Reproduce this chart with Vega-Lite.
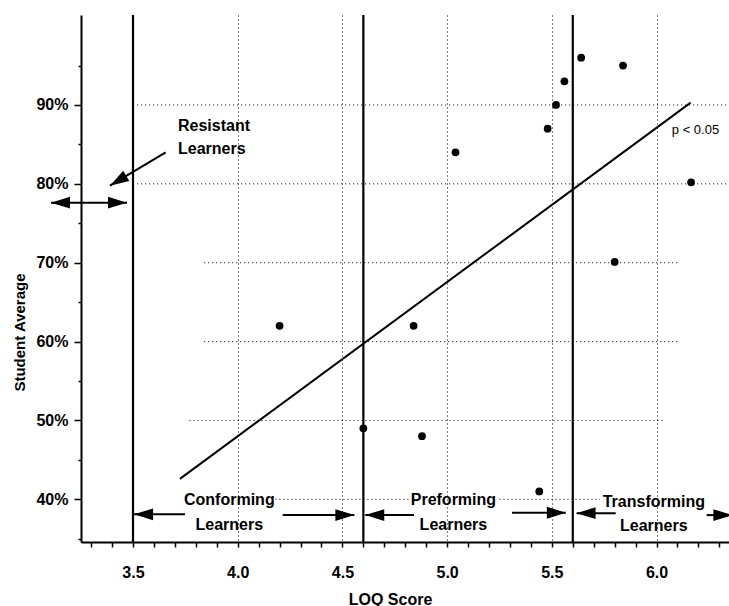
{
  "$schema": "https://vega.github.io/schema/vega-lite/v6.json",
  "width": 648,
  "height": 527,
  "autosize": {"type": "none"},
  "padding": {"left": 81, "top": 15, "right": 0, "bottom": 64},
  "background": "white",
  "config": {"view": {"stroke": null}, "font": "Liberation Sans"},
  "datasets": {
    "points": [
      {"x": 4.2, "y": 62}, {"x": 4.84, "y": 62}, {"x": 4.6, "y": 49}, {"x": 4.88, "y": 48},
      {"x": 5.04, "y": 84}, {"x": 5.44, "y": 41}, {"x": 5.48, "y": 87}, {"x": 5.52, "y": 90},
      {"x": 5.56, "y": 93}, {"x": 5.64, "y": 96}, {"x": 5.84, "y": 95}, {"x": 6.165, "y": 80.2},
      {"x": 5.8, "y": 70.1}
    ],
    "fit": [{"x": 3.724, "y": 42.6}, {"x": 6.163, "y": 90.3}],
    "hgrid": [
      {"y": 90, "x": 3.52, "x2": 6.346}, {"y": 80, "x": 3.52, "x2": 6.346},
      {"y": 70, "x": 3.84, "x2": 6.11}, {"y": 60, "x": 3.84, "x2": 6.11},
      {"y": 50, "x": 3.77, "x2": 6.03}, {"y": 40, "x": 4.18, "x2": 4.82},
      {"y": 40, "x": 5.25, "x2": 5.73}
    ],
    "bands": [{"x": 3.5}, {"x": 4.6}, {"x": 5.6}],
    "arrows": [
      {"x": 3.656, "y": 84.0, "x2": 3.39, "y2": 79.77},
      {"x": 3.1085, "y": 77.61, "x2": 3.4714, "y2": 77.61},
      {"x": 3.505, "y": 38.1, "x2": 3.748, "y2": 38.1},
      {"x": 4.215, "y": 38.0, "x2": 4.557, "y2": 38.0},
      {"x": 4.609, "y": 38.0, "x2": 4.842, "y2": 38.0},
      {"x": 5.31, "y": 38.3, "x2": 5.567, "y2": 38.3},
      {"x": 5.618, "y": 38.25, "x2": 5.805, "y2": 38.25},
      {"x": 6.239, "y": 38.0, "x2": 6.362, "y2": 38.0}
    ],
    "heads": [
      {"x": 3.39, "y": 79.77, "dir": "downleft"},
      {"x": 3.1085, "y": 77.61, "dir": "left"},
      {"x": 3.4714, "y": 77.61, "dir": "right"},
      {"x": 3.505, "y": 38.1, "dir": "left"},
      {"x": 4.557, "y": 38.0, "dir": "right"},
      {"x": 4.609, "y": 38.0, "dir": "left"},
      {"x": 5.567, "y": 38.3, "dir": "right"},
      {"x": 5.618, "y": 38.25, "dir": "left"},
      {"x": 6.362, "y": 38.0, "dir": "right"}
    ],
    "labels": [
      {"text": "Conforming", "x": 3.96, "y": 39.91, "kind": "region"},
      {"text": "Learners", "x": 3.96, "y": 36.74, "kind": "region"},
      {"text": "Preforming", "x": 5.03, "y": 39.91, "kind": "region"},
      {"text": "Learners", "x": 5.03, "y": 36.74, "kind": "region"},
      {"text": "Transforming", "x": 5.987, "y": 39.66, "kind": "region"},
      {"text": "Learners", "x": 5.987, "y": 36.61, "kind": "region"},
      {"text": "Resistant", "x": 3.715, "y": 87.34, "kind": "resistant"},
      {"text": "Learners", "x": 3.715, "y": 84.42, "kind": "resistant"},
      {"text": "p < 0.05", "x": 6.073, "y": 86.83, "kind": "p"}
    ]
  },
  "layer": [
    {
      "data": {"name": "hgrid"},
      "mark": {"type": "rule", "color": "black", "strokeWidth": 1, "strokeDash": [1, 3]},
      "encoding": {
        "x": {
          "field": "x", "type": "quantitative",
          "scale": {"domain": [3.2517, 6.346], "nice": false, "zero": false},
          "axis": {
            "title": "LOQ Score", "titleFont": "Liberation Sans", "titleFontSize": 16, "titleFontWeight": "bold",
            "titleColor": "black", "titleX": 309, "titleY": 62, "titleAlign": "center", "titleBaseline": "alphabetic",
            "values": [3.3, 3.4, 3.5, 3.6, 3.7, 3.8, 3.9, 4, 4.1, 4.2, 4.3, 4.4, 4.5, 4.6, 4.7, 4.8, 4.9, 5, 5.1, 5.2, 5.3, 5.4, 5.5, 5.6, 5.7, 5.8, 5.9, 6, 6.1, 6.2, 6.3],
            "tickCount": 100,
            "labelExpr": "round(datum.value*10) % 5 === 0 ? format(datum.value, '.1f') : ''",
            "labelFont": "Liberation Sans", "labelFontSize": 16, "labelFontWeight": "bold", "labelColor": "black",
            "labelPadding": 17, "labelBaseline": "top", "labelOverlap": false, "labelFlush": false, "labelBound": false,
            "tickSize": 5, "tickColor": "black", "tickWidth": 1.5,
            "domainColor": "black", "domainWidth": 2,
            "grid": true, "gridColor": "black", "gridDash": [1, 3], "gridWidth": 1,
            "gridOpacity": {"condition": {"test": "round(datum.value*10) % 5 === 0 && datum.value > 3.6", "value": 1}, "value": 0}
          }
        },
        "x2": {"field": "x2"},
        "y": {
          "field": "y", "type": "quantitative",
          "scale": {"domain": [34.59, 101.41], "nice": false, "zero": false},
          "axis": {
            "title": "Student Average", "titleFont": "Liberation Sans", "titleFontSize": 15, "titleFontWeight": "bold",
            "titleColor": "black", "titleAngle": 270, "titleX": -62, "titleY": 317, "titleAlign": "center", "titleBaseline": "middle",
            "values": [35, 40, 45, 50, 55, 60, 65, 70, 75, 80, 85, 90, 95],
            "tickCount": 100,
            "labelExpr": "datum.value % 10 === 0 ? datum.value + '%' : ''",
            "labelFont": "Liberation Sans", "labelFontSize": 16, "labelFontWeight": "bold", "labelColor": "black",
            "labelPadding": 6, "labelOverlap": false, "labelFlush": false, "labelBound": false,
            "tickSize": {"condition": {"test": "datum.value % 10 === 0", "value": 7}, "value": 3},
            "tickColor": "black", "tickWidth": 1.5,
            "domainColor": "black", "domainWidth": 2, "grid": false
          }
        }
      }
    },
    {
      "data": {"name": "bands"},
      "mark": {"type": "rule", "color": "black", "strokeWidth": 2.2},
      "encoding": {"x": {"field": "x", "type": "quantitative"}}
    },
    {
      "data": {"name": "fit"},
      "mark": {"type": "line", "color": "black", "strokeWidth": 2},
      "encoding": {"x": {"field": "x", "type": "quantitative"}, "y": {"field": "y", "type": "quantitative"}}
    },
    {
      "data": {"name": "arrows"},
      "mark": {"type": "rule", "color": "black", "strokeWidth": 2},
      "encoding": {
        "x": {"field": "x", "type": "quantitative"}, "x2": {"field": "x2"},
        "y": {"field": "y", "type": "quantitative"}, "y2": {"field": "y2"}
      }
    },
    {
      "data": {"name": "heads"},
      "transform": [{"filter": "datum.dir === 'left'"}],
      "mark": {"type": "point", "shape": "M0,0L0.62,2L-0.62,2Z", "filled": true, "color": "black", "opacity": 1, "size": 361, "angle": 270},
      "encoding": {"x": {"field": "x", "type": "quantitative"}, "y": {"field": "y", "type": "quantitative"}}
    },
    {
      "data": {"name": "heads"},
      "transform": [{"filter": "datum.dir === 'right'"}],
      "mark": {"type": "point", "shape": "M0,0L0.62,2L-0.62,2Z", "filled": true, "color": "black", "opacity": 1, "size": 361, "angle": 90},
      "encoding": {"x": {"field": "x", "type": "quantitative"}, "y": {"field": "y", "type": "quantitative"}}
    },
    {
      "data": {"name": "heads"},
      "transform": [{"filter": "datum.dir === 'downleft'"}],
      "mark": {"type": "point", "shape": "M0,0L0.62,2L-0.62,2Z", "filled": true, "color": "black", "opacity": 1, "size": 361, "angle": 239},
      "encoding": {"x": {"field": "x", "type": "quantitative"}, "y": {"field": "y", "type": "quantitative"}}
    },
    {
      "data": {"name": "points"},
      "mark": {"type": "point", "shape": "circle", "filled": true, "color": "black", "opacity": 1, "size": 60},
      "encoding": {"x": {"field": "x", "type": "quantitative"}, "y": {"field": "y", "type": "quantitative"}}
    },
    {
      "data": {"name": "labels"},
      "transform": [{"filter": "datum.kind === 'region'"}],
      "mark": {"type": "text", "font": "Liberation Sans", "fontSize": 16, "fontWeight": "bold", "color": "black", "align": "center", "baseline": "middle"},
      "encoding": {"x": {"field": "x", "type": "quantitative"}, "y": {"field": "y", "type": "quantitative"}, "text": {"field": "text"}}
    },
    {
      "data": {"name": "labels"},
      "transform": [{"filter": "datum.kind === 'resistant'"}],
      "mark": {"type": "text", "font": "Liberation Sans", "fontSize": 16, "fontWeight": "bold", "color": "black", "align": "left", "baseline": "middle"},
      "encoding": {"x": {"field": "x", "type": "quantitative"}, "y": {"field": "y", "type": "quantitative"}, "text": {"field": "text"}}
    },
    {
      "data": {"name": "labels"},
      "transform": [{"filter": "datum.kind === 'p'"}],
      "mark": {"type": "text", "font": "Liberation Sans", "fontSize": 13, "fontWeight": "normal", "color": "black", "align": "left", "baseline": "middle"},
      "encoding": {"x": {"field": "x", "type": "quantitative"}, "y": {"field": "y", "type": "quantitative"}, "text": {"field": "text"}}
    },
    {
      "mark": {"type": "rule", "color": "black", "strokeWidth": 2.5},
      "encoding": {"y": {"datum": 101.41, "type": "quantitative"}}
    }
  ]
}
